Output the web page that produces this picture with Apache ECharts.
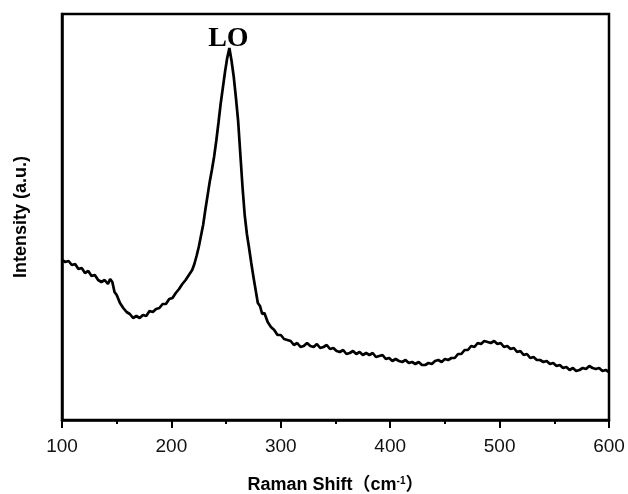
<!DOCTYPE html>
<html>
<head>
<meta charset="utf-8">
<script src="https://cdn.jsdelivr.net/npm/echarts@6/dist/echarts.min.js"></script>
<style>html,body{margin:0;padding:0;background:#fff;}#c{width:628px;height:494px;}</style>
</head>
<body>
<div id="c"></div>
<script>
// Raman shift (cm^-1)
var ramanShift = [100,103,106,109,112,115,118,121,124,127,130,133,136,139,142,144,146,148,150,153,156,159,162,165,168,171,174,177,180,183,186,189,192,195,198,201,204,207,210,213,216,219,221,223,225,227,229,231,233,235,237,239,241,243,245,247,249,251,253,255,257,259,261,263,265,267,269,271,273,275,277,279,281,283,285,288,291,294,297,300,303,306,309,312,315,318,321,324,327,330,333,336,339,342,345,348,351,354,357,360,363,366,369,372,375,378,381,384,387,390,393,396,399,402,405,408,411,414,417,420,423,426,429,432,435,438,441,444,447,450,453,456,459,462,465,468,471,474,477,480,483,486,489,492,495,498,501,504,507,510,513,516,519,522,525,528,531,534,537,540,543,546,549,552,555,558,561,564,567,570,573,576,579,582,585,588,591,594,597,600];
// Intensity (a.u.)
var intensity = [160,158,159,155,156,151,152,147,149,144,145,140,138,140,136,141,138,128,125,
  117,112,108,106,102,104,102,105,104,109,108,111,112,116,116,121,122,127,131,136,140,145,150,
  156,164,173,184,195,210,224,238,250,263,279,297,316,332,348,362,372,359,343,322,299,266,233,205,186,172,157,143,130,117,114,106,107,
  98,93,90,85,85,81,80,79,75,77,
  73,74,77,74,73,76,72,73,75,71,
  72,69,68,70,66,67,69,66,68,65,
  67,65,67,63,64,65,61,62,59,61,
  59,58,60,57,58,56,58,55,55,57,
  56,59,60,58,61,60,62,62,66,66,
  70,70,74,73,77,76,79,78,77,79,
  76,77,73,74,71,72,68,69,65,66,
  62,63,60,60,58,59,56,57,54,55,
  52,53,50,52,49,50,52,51,54,52,
  51,52,49,50,48];
var xTicks = {min: 100, max: 600, step: 100};
var peakLabel = 'LO';
var peakX = 253, peakY = 372;

var seriesData = ramanShift.map(function (x, i) { return [x, intensity[i]]; });

var chart = echarts.init(document.getElementById('c'), null, {renderer: 'canvas'});
var sans = 'Liberation Sans, Arial, Noto Sans CJK SC, sans-serif';
chart.setOption({
  backgroundColor: '#fff',
  animation: false,
  grid: {left: 62, right: 19, top: 14, bottom: 74, outerBoundsMode: 'none', containLabel: false,
    show: true, borderColor: '#000', borderWidth: 2.5, backgroundColor: 'transparent'},
  xAxis: {
    type: 'value', min: xTicks.min, max: xTicks.max, interval: xTicks.step,
    axisLine: {show: true, onZero: false, lineStyle: {color: '#000', width: 2.5}},
    axisTick: {show: true, inside: false, length: 8, lineStyle: {color: '#000', width: 2}},
    minorTick: {show: true, splitNumber: 2, length: 4, lineStyle: {color: '#000', width: 2}},
    splitLine: {show: false},
    axisLabel: {color: '#111', fontSize: 19, fontFamily: sans, margin: 17},
    name: 'Raman Shift（cm{sup|-1}）',
    nameLocation: 'middle', nameGap: 56,
    nameTextStyle: {color: '#000', fontSize: 18, fontWeight: 'bold', fontFamily: sans,
      rich: {sup: {fontSize: 10, fontWeight: 'bold', verticalAlign: 'top', color: '#000', fontFamily: sans}}}
  },
  yAxis: {
    type: 'value', min: 0, max: 406,
    axisLine: {show: true, lineStyle: {color: '#000', width: 2.5}},
    axisTick: {show: false}, axisLabel: {show: false}, splitLine: {show: false},
    name: 'Intensity (a.u.)', nameLocation: 'middle', nameGap: 32,
    nameTextStyle: {color: '#000', fontSize: 18, fontWeight: 'bold', fontFamily: sans}
  },
  series: [{
    type: 'line', data: seriesData, showSymbol: false, symbol: 'none', smooth: false,
    lineStyle: {color: '#000', width: 2.7}, z: 3,
    markPoint: {
      symbol: 'circle', symbolSize: 0,
      data: [{coord: [peakX, peakY], value: peakLabel}],
      label: {show: true, position: 'inside', formatter: peakLabel, offset: [-1, -9],
        color: '#000', fontSize: 28, fontWeight: 'bold', fontFamily: 'Liberation Serif, Times New Roman, serif'}
    }
  }]
});
</script>
</body>
</html>
